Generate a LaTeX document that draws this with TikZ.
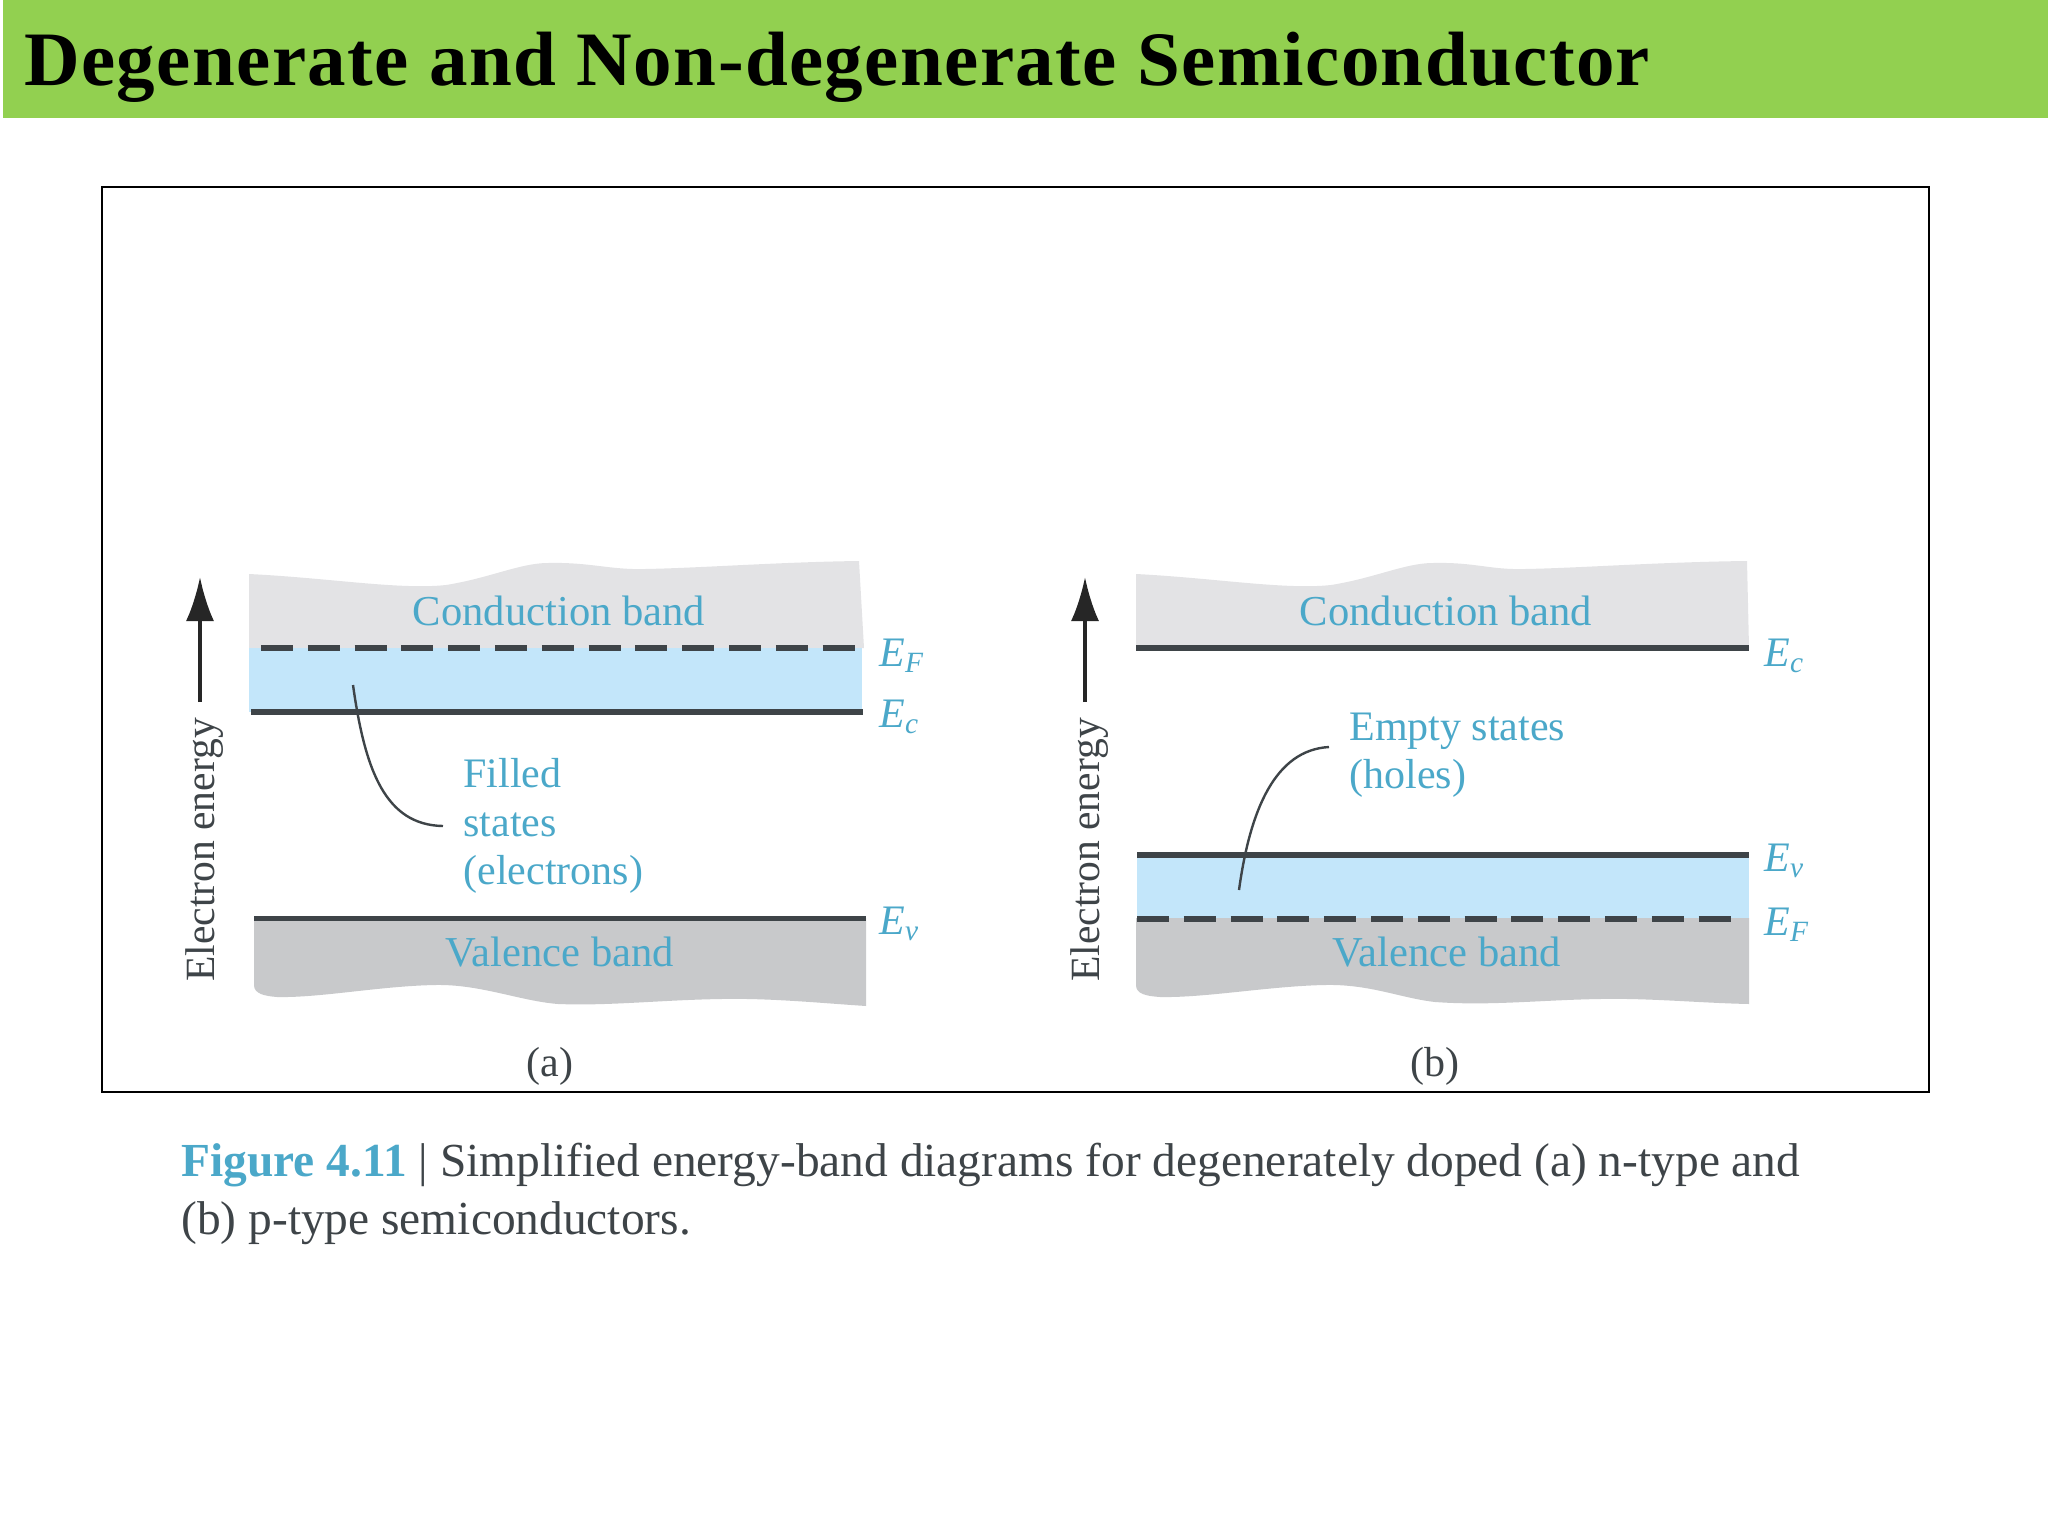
\documentclass[tikz,border=0pt]{standalone}
\usepackage{fontspec}
\usepackage{xcolor}
\setmainfont{Liberation Serif}
\newfontfamily\titlefont[LetterSpace=1.8]{Liberation Serif}
\usetikzlibrary{arrows.meta}
\definecolor{headgreen}{HTML}{92D050}
\definecolor{condgray}{HTML}{E3E3E5}
\definecolor{valgray}{HTML}{C8C9CB}
\definecolor{fillblue}{HTML}{C3E6FA}
\definecolor{labelblue}{HTML}{4BA8C9}
\definecolor{inkgray}{HTML}{3E4448}
\tikzset{
    label/.style={text=labelblue, font=\fontsize{21}{24.25}\selectfont, inner sep=0pt},
    bandname/.style={label, font=\fontsize{21.3}{25}\selectfont},
    level/.style={label, anchor=west, font=\fontsize{21}{24}\selectfont\itshape},
    axisname/.style={text=inkgray, font=\fontsize{20.8}{24}\selectfont, rotate=90, inner sep=0pt},
    caption/.style={text=inkgray, font=\fontsize{23.7}{27}\selectfont, inner sep=0pt, anchor=base west},
    bandline/.style={draw=inkgray, line width=2.6pt},
    fermiline/.style={bandline, line width=3pt, dash pattern=on 16pt off 7.4pt},
    leader/.style={draw=inkgray, line width=1.2pt},
    energyarrow/.style={draw=black!85, line width=1.8pt, -{Latex[length=22pt, width=14pt]}}
}
\begin{document}
\begin{tikzpicture}[x=0.5pt, y=-0.5pt]
    \useasboundingbox (0,0) rectangle (2048,1536);
    % header
    \fill[headgreen] (3,0) rectangle (2048,118);
    \node[anchor=base west, inner sep=0pt, font=\fontsize{38.5}{44}\selectfont\bfseries\titlefont] (title) at (24,86) {Degenerate and Non-degenerate Semiconductor};
    % frame
    \draw[black, line width=1.2pt] (102,187) rectangle (1929,1092);

    % panel (a)
    \fill[condgray] (249,574) .. controls (330,578) and (400,590) .. (446,585) .. controls (490,578) and (520,563) .. (548,563) .. controls (590,562) and (610,570) .. (645,569) .. controls (700,568) and (780,562) .. (859,561) -- (864,648) -- (249,648) -- cycle;
    \fill[fillblue] (249,648) rectangle (862,712);
    \fill[valgray] (254,918) -- (866,918) -- (866,1006) .. controls (820,1003) and (770,998) .. (721,999) .. controls (660,1000) and (610,1006) .. (558,1004) .. controls (520,1001) and (480,984) .. (435,985) .. controls (380,986) and (320,998) .. (277,997) .. controls (265,996) and (254,994) .. (254,985) -- cycle;
    \draw[fermiline] (261,648) -- (863,648);
    \draw[bandline] (251,712) -- (863,712);
    \draw[bandline] (254,918.5) -- (866,918.5);
    \node[bandname] (conda) at (559,611) {Conduction band};
    \node[bandname] (vala) at (560,952) {Valence band};
    \node[level] (efa) at (879,656) {E\textsubscript{F}};
    \node[level] (eca) at (879,717) {E\textsubscript{c}};
    \node[level] (eva) at (879,924) {E\textsubscript{v}};
    \node[label, align=left, inner sep=10pt, anchor=west] (filled) at (443,826) {Filled\\states\\(electrons)};
    \coordinate (filledtip) at (353,685);
    \draw[leader] (filledtip) .. controls (365,770) and (385,825) .. (filled.west);
    \coordinate (arrowa0) at (200,702);
    \coordinate (arrowa1) at (200,577);
    \draw[energyarrow] (arrowa0) -- (arrowa1);
    \node[axisname] (axisa) at (205,850) {Electron energy};
    \node[label, text=inkgray] (capa) at (550,1066) {(a)};

    % panel (b)
    \fill[condgray] (1136,574) .. controls (1215,578) and (1285,590) .. (1331,585) .. controls (1375,578) and (1405,563) .. (1433,563) .. controls (1475,562) and (1490,570) .. (1525,569) .. controls (1580,568) and (1660,562) .. (1747,561) -- (1749,648) -- (1136,648) -- cycle;
    \fill[fillblue] (1137,855) rectangle (1749,918);
    \fill[valgray] (1136,918) -- (1749,918) -- (1749,1004) .. controls (1700,1003) and (1650,998) .. (1600,999) .. controls (1540,1000) and (1490,1006) .. (1435,1002) .. controls (1400,998) and (1370,984) .. (1325,985) .. controls (1270,986) and (1205,998) .. (1160,997) .. controls (1146,996) and (1136,994) .. (1136,985) -- cycle;
    \draw[bandline] (1136,648) -- (1749,648);
    \draw[bandline] (1137,855) -- (1749,855);
    \draw[fermiline] (1137,918.5) -- (1740,918.5);
    \node[bandname] (condb) at (1446,611) {Conduction band};
    \node[bandname] (valb) at (1447,952) {Valence band};
    \node[level] (ecb) at (1764,656) {E\textsubscript{c}};
    \node[level] (evb) at (1764,861) {E\textsubscript{v}};
    \node[level] (efb) at (1764,925) {E\textsubscript{F}};
    \node[label, align=left, inner sep=10pt, anchor=west] (empty) at (1329,755) {Empty states\\(holes)};
    \coordinate (emptytip) at (1239,890);
    \draw[leader] (emptytip) .. controls (1250,810) and (1275,750) .. ([yshift=4pt]empty.west);
    \coordinate (arrowb0) at (1085,702);
    \coordinate (arrowb1) at (1085,577);
    \draw[energyarrow] (arrowb0) -- (arrowb1);
    \node[axisname] (axisb) at (1090,850) {Electron energy};
    \node[label, text=inkgray] (capb) at (1435,1066) {(b)};

    % figure caption
    \node[caption] (capline1) at (181,1176) {\textcolor{labelblue}{\textbf{Figure 4.11}} | Simplified energy-band diagrams for degenerately doped (a) n-type and};
    \node[caption] (capline2) at (181,1234) {(b) p-type semiconductors.};
\end{tikzpicture}
\end{document}
